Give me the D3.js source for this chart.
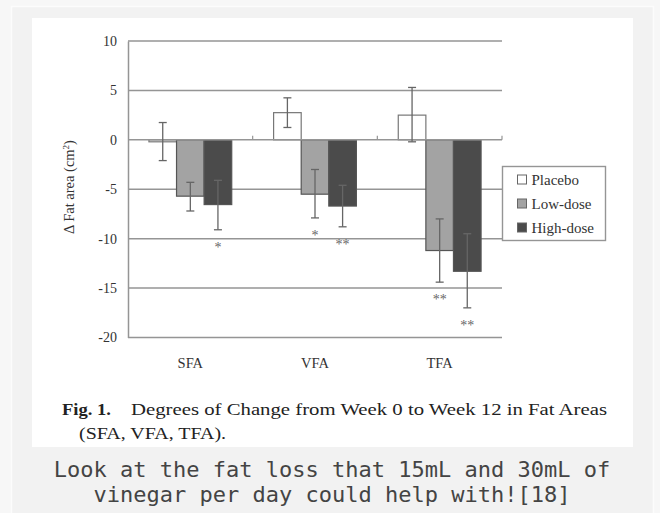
<!DOCTYPE html>
<html>
<head>
  <meta charset="utf-8">
  <title>Fat area change</title>
  <script src="https://d3js.org/d3.v7.min.js"></script>
  <style>
    body { margin: 0; background: #f7f7f7; }
    svg { display: block; }
    .serif { font-family: "Liberation Serif", "Times New Roman", serif; }
  </style>
</head>
<body>
  <div id="chart"></div>
  <script>
    // data
    var categories = ["SFA", "VFA", "TFA"];
    var groups = ["Placebo", "Low-dose", "High-dose"];
    var means = {
      "Placebo":   [-0.2, 2.75, 2.5],
      "Low-dose":  [-5.7, -5.5, -11.2],
      "High-dose": [-6.55, -6.7, -13.3]
    };
    var errTop = {
      "Placebo":   [1.75, 4.25, 5.3],
      "Low-dose":  [-4.3, -3.0, -8.0],
      "High-dose": [-4.1, -4.6, -9.5]
    };
    var errBottom = {
      "Placebo":   [-2.1, 1.25, -0.2],
      "Low-dose":  [-7.2, -7.9, -14.4],
      "High-dose": [-9.1, -8.8, -17.0]
    };
    var stars = {
      "Placebo":   ["", "", ""],
      "Low-dose":  ["", "*", "**"],
      "High-dose": ["*", "**", "**"]
    };
    var yTicks = [10, 5, 0, -5, -10, -15, -20];
    var colors = { "Placebo": "#ffffff", "Low-dose": "#a3a3a3", "High-dose": "#4b4b4b" };

    var W = 660, H = 513;
    var svg = d3.select("#chart").append("svg")
      .attr("width", W)
      .attr("height", H);

    // page / card / figure background
    svg.append("rect").attr("x", 0).attr("y", 0).attr("width", W).attr("height", H).attr("fill", "#f7f7f7");
    svg.append("rect").attr("x", 11.5).attr("y", 6.5).attr("width", 642).attr("height", 520)
      .attr("fill", "#f2f2f2").attr("stroke", "#fcfcfc").attr("stroke-width", 1.5);
    svg.append("rect").attr("x", 32).attr("y", 18).attr("width", 601).attr("height", 429).attr("fill", "#ffffff");

    // scales
    var y = d3.scaleLinear().domain([-20, 10]).range([337.5, 41]);
    var x = d3.scaleBand().domain(categories).range([128, 502]);
    var barW = 27.6;
    var xs = d3.scaleBand().domain(groups)
      .range([x.bandwidth() / 2 - barW * 1.5, x.bandwidth() / 2 + barW * 1.5]);

    var grid = "#959595";

    // horizontal grid lines
    svg.append("g")
      .selectAll("line")
      .data(yTicks.filter(function(d) { return d !== 0; }))
      .enter().append("line")
      .attr("x1", 128).attr("x2", 502)
      .attr("y1", function(d) { return y(d); })
      .attr("y2", function(d) { return y(d); })
      .attr("stroke", grid)
      .attr("stroke-width", 1.5);

    // left axis
    var yAxis = svg.append("g")
      .attr("transform", "translate(128,0)")
      .call(d3.axisLeft(y).tickValues(yTicks).tickSize(0).tickPadding(11)
        .tickFormat(function(d) { return String(d); }));
    yAxis.select(".domain").attr("stroke", grid).attr("stroke-width", 1.5);
    yAxis.selectAll("text")
      .attr("class", "serif")
      .style("font-size", "14px")
      .attr("fill", "#333");

    // bars
    var bars = [];
    groups.forEach(function(g) {
      categories.forEach(function(c, i) {
        bars.push({ cat: c, grp: g, v: means[g][i], hi: errTop[g][i], lo: errBottom[g][i], star: stars[g][i] });
      });
    });

    var bx = function(d) { return x(d.cat) + xs(d.grp); };
    var cx = function(d) { return bx(d) + xs.bandwidth() / 2; };

    svg.append("g")
      .selectAll("rect")
      .data(bars)
      .enter().append("rect")
      .attr("x", bx)
      .attr("y", function(d) { return y(Math.max(0, d.v)); })
      .attr("width", xs.bandwidth())
      .attr("height", function(d) { return Math.abs(y(d.v) - y(0)); })
      .attr("fill", function(d) { return colors[d.grp]; })
      .attr("stroke", function(d) { return d.grp === "Placebo" ? "#777" : "#555"; })
      .attr("stroke-width", 1.2);

    // zero axis with category ticks
    var xAxis = svg.append("g")
      .attr("transform", "translate(0," + y(0) + ")");
    xAxis.append("line")
      .attr("x1", 128).attr("x2", 502)
      .attr("stroke", grid).attr("stroke-width", 1.5);
    xAxis.selectAll(".tk")
      .data(categories)
      .enter().append("line")
      .attr("class", "tk")
      .attr("x1", function(d) { return x(d) + x.bandwidth(); })
      .attr("x2", function(d) { return x(d) + x.bandwidth(); })
      .attr("y1", 0).attr("y2", -4)
      .attr("stroke", grid).attr("stroke-width", 1.2);

    // error bars
    var eb = svg.append("g").attr("stroke", "#666").attr("stroke-width", 1.3);
    eb.selectAll(".v").data(bars).enter().append("line")
      .attr("x1", cx).attr("x2", cx)
      .attr("y1", function(d) { return y(d.hi); })
      .attr("y2", function(d) { return y(d.lo); });
    eb.selectAll(".t").data(bars).enter().append("line")
      .attr("x1", function(d) { return cx(d) - 4; }).attr("x2", function(d) { return cx(d) + 4; })
      .attr("y1", function(d) { return y(d.hi); })
      .attr("y2", function(d) { return y(d.hi); });
    eb.selectAll(".b").data(bars).enter().append("line")
      .attr("x1", function(d) { return cx(d) - 4; }).attr("x2", function(d) { return cx(d) + 4; })
      .attr("y1", function(d) { return y(d.lo); })
      .attr("y2", function(d) { return y(d.lo); });

    // significance stars
    svg.append("g")
      .selectAll("text")
      .data(bars.filter(function(d) { return d.star; }))
      .enter().append("text")
      .attr("class", "serif")
      .attr("x", cx)
      .attr("y", function(d) { return y(d.lo) + 22; })
      .attr("text-anchor", "middle")
      .style("font-size", "14px")
      .attr("fill", "#666")
      .text(function(d) { return d.star; });

    // category labels
    svg.append("g")
      .selectAll("text")
      .data(categories)
      .enter().append("text")
      .attr("class", "serif")
      .attr("x", function(d) { return x(d) + x.bandwidth() / 2; })
      .attr("y", 368)
      .attr("text-anchor", "middle")
      .style("font-size", "14.5px")
      .attr("fill", "#333")
      .text(function(d) { return d; });

    // y axis title
    var yt = svg.append("text")
      .attr("class", "serif")
      .attr("transform", "translate(74,187) rotate(-90)")
      .attr("text-anchor", "middle")
      .style("font-size", "14.5px")
      .attr("fill", "#333");
    yt.append("tspan").text("\u0394 Fat area (cm");
    yt.append("tspan").attr("dy", -5).style("font-size", "9px").text("2");
    yt.append("tspan").attr("dy", 5).text(")");

    // legend
    var lg = svg.append("g").attr("transform", "translate(502.5,166.5)");
    lg.append("rect").attr("width", 103).attr("height", 74)
      .attr("fill", "#fff").attr("stroke", grid).attr("stroke-width", 1.4);
    groups.forEach(function(g, i) {
      var row = lg.append("g").attr("transform", "translate(15," + (13 + i * 24) + ")");
      row.append("rect").attr("x", 0).attr("y", -4.5).attr("width", 9).attr("height", 9)
        .attr("fill", colors[g]).attr("stroke", "#666").attr("stroke-width", 1);
      row.append("text").attr("class", "serif")
        .attr("x", 14).attr("y", 5)
        .style("font-size", "15px")
        .attr("fill", "#333")
        .text(g);
    });

    // figure caption (stretched to the width of the original scan)
    svg.append("text")
      .attr("class", "serif")
      .attr("x", 62).attr("y", 415)
      .attr("textLength", 49).attr("lengthAdjust", "spacingAndGlyphs")
      .style("font-size", "16px").style("font-weight", "bold")
      .attr("fill", "#222")
      .text("Fig. 1.");
    svg.append("text")
      .attr("class", "serif")
      .attr("x", 131).attr("y", 415)
      .attr("textLength", 476).attr("lengthAdjust", "spacingAndGlyphs")
      .style("font-size", "16px")
      .attr("fill", "#222")
      .text("Degrees of Change from Week 0 to Week 12 in Fat Areas");
    svg.append("text")
      .attr("class", "serif")
      .attr("x", 79).attr("y", 439)
      .attr("textLength", 147).attr("lengthAdjust", "spacingAndGlyphs")
      .style("font-size", "16px")
      .attr("fill", "#222")
      .text("(SFA, VFA, TFA).");

    // page caption
    var pc = svg.append("text")
      .attr("x", 332).attr("text-anchor", "middle")
      .style("font-family", "'DejaVu Sans Mono', monospace")
      .style("font-size", "22px")
      .attr("fill", "#444");
    pc.append("tspan").attr("x", 332).attr("y", 477).text("Look at the fat loss that 15mL and 30mL of");
    pc.append("tspan").attr("x", 332).attr("y", 502).text("vinegar per day could help with![18]");
  </script>
</body>
</html>
